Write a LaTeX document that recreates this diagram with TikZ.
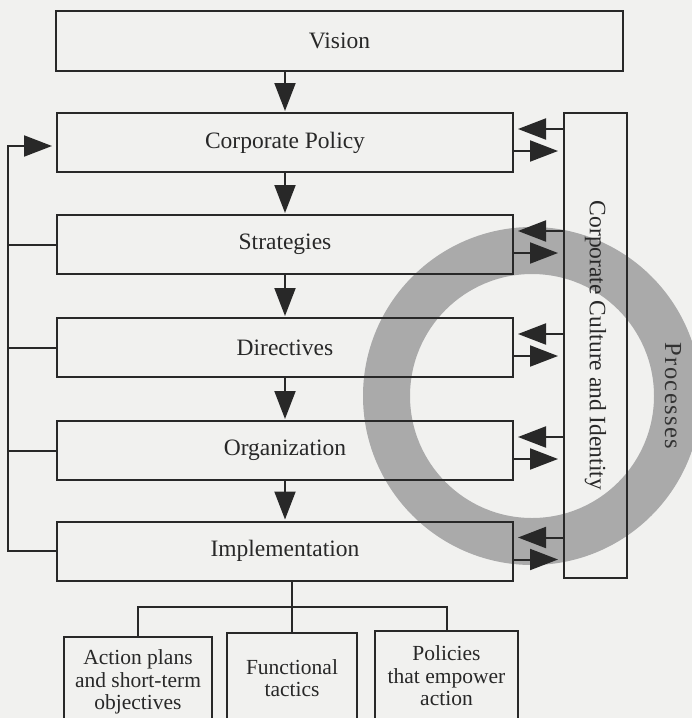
\documentclass[tikz,border=0pt]{standalone}
\usepackage{fontspec}
\setmainfont{Liberation Serif}
\usetikzlibrary{arrows.meta}
\definecolor{ink}{RGB}{40,40,40}
\definecolor{paper}{RGB}{241,241,239}
\definecolor{ringgray}{RGB}{170,170,170}
\begin{document}
\begin{tikzpicture}[x=1pt,y=-1pt,
  box/.style={draw=ink, line width=2pt, rectangle, inner sep=0pt, outer sep=0pt,
    text=ink, font=\fontsize{23.5}{26}\selectfont},
  level/.style={box, minimum width=456pt, minimum height=59pt},
  small/.style={box, anchor=north, minimum height=90pt, align=center,
    font=\fontsize{21.5}{22.5}\selectfont},
  link/.style={draw=ink, line width=2pt},
  head/.style={-{Triangle[length=28pt,width=21pt]}},
  label/.style={text=ink, inner sep=0pt},
]
% page and background
\clip (0,0) rectangle (692,718);
\fill[paper] (0,0) rectangle (692,718);

% the "Processes" ring behind everything
\fill[ringgray, even odd rule] (532,396) circle[radius=169] (532,396) circle[radius=122];
\node[label, rotate=-90, text=black!80, font=\fontsize{24.5}{26}\selectfont\addfontfeatures{LetterSpace=6}]
  (processes) at (673,396) {Processes};

% main chain
\node[box, minimum width=567pt, minimum height=60pt] (vision) at (339.5,41) {Vision};
\node[level] (corp)  at (285,142.5) {Corporate Policy};
\node[level] (strat) at (285,244.5) {Strategies};
\node[level] (dir)   at (285,347.5) {Directives};
\node[level] (org)   at (285,450.5) {Organization};
\node[level] (impl)  at (285,551)   {Implementation};

% culture column
\node[box, minimum width=63pt, minimum height=465pt] (culture) at (595.5,345.5) {};
\node[label, rotate=-90, font=\fontsize{23.5}{26}\selectfont] (culturetext)
  at (culture.center) {Corporate Culture and Identity};

% downward flow
\draw[link, head, shorten >=2pt] (vision.south -| corp.north) -- (corp.north);
\draw[link, head, shorten >=2pt] (corp) -- (strat);
\draw[link, head, shorten >=2pt] (strat) -- (dir);
\draw[link, head, shorten >=2pt] (dir) -- (org);
\draw[link, head, shorten >=2pt] (org) -- (impl);

% exchange with the culture column
\foreach \b in {corp,strat,dir,org,impl} {
  \draw[link, head, shorten >=5pt] ([yshift=13.5pt]\b.east -| culture.west) -- ([yshift=13.5pt]\b.east);
  \draw[link, head, shorten >=6pt] ([yshift=-8.5pt]\b.east) -- ([yshift=-8.5pt]\b.east -| culture.west);
}

% feedback rail on the left
\coordinate (rail) at (8,0);
\draw[link, head, shorten >=5pt] (impl.west) -- (impl.west -| rail) |- ([yshift=-3.5pt]corp.west);
\foreach \b in {strat,dir,org} {
  \draw[link] (\b.west) -- (\b.west -| rail);
}

% implementation breakdown
\node[small, minimum width=148pt] (plans)   at (138,637)   {Action plans\\and short-term\\objectives};
\node[small, minimum width=130pt] (tactics) at (292,633)   {Functional\\tactics};
\node[small, minimum width=143pt] (empower) at (446.5,631) {Policies\\that empower\\action};
\coordinate (bar) at (0,607);
\draw[link] (impl.south -| tactics.north) -- (tactics.north);
\draw[link] (plans.north) -- (plans.north |- bar) -- (empower.north |- bar) -- (empower.north);
\end{tikzpicture}
\end{document}
